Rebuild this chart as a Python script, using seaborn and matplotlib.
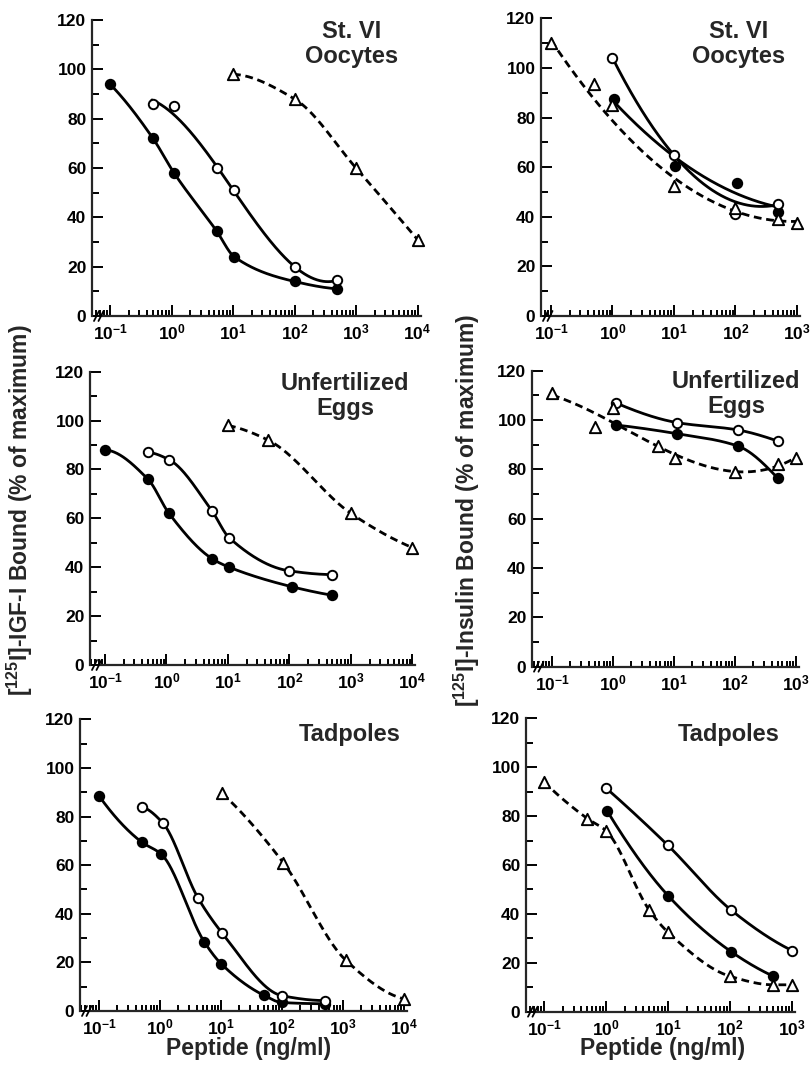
import numpy as np
import matplotlib
matplotlib.use("Agg")
import matplotlib.pyplot as plt
import seaborn as sns
from matplotlib.ticker import LogLocator, MultipleLocator, FixedLocator, FuncFormatter, NullFormatter

# ---------------- data ----------------
yticks = [0, 20, 40, 60, 80, 100, 120]
titles = ["St. VI\nOocytes", "St. VI\nOocytes", "Unfertilized\nEggs",
          "Unfertilized\nEggs", "Tadpoles", "Tadpoles"]
ylabel_igf = r"[$^{125}$I]-IGF-I Bound (% of maximum)"
ylabel_ins = r"[$^{125}$I]-Insulin Bound (% of maximum)"
xlabel = "Peptide (ng/ml)"

# A: IGF-I tracer, St. VI oocytes
a_filled_x = [0.1, 0.5, 1.1, 5.4, 10.5, 100, 500]
a_filled_y = [94, 72, 58, 34.5, 24, 14, 11]
a_open_x = [0.5, 1.1, 5.4, 10.5, 100, 500]
a_open_y = [86, 85, 60, 51, 20, 14.5]
a_tri_x = [10, 100, 1000, 10000]
a_tri_y = [98, 88, 60, 31]

# B: insulin tracer, St. VI oocytes
b_filled_x = [1.05, 10.5, 105, 500]
b_filled_y = [87.5, 60.5, 53.5, 42]
b_open_x = [1, 10, 100, 500]
b_open_y = [104, 65, 41, 45]
b_tri_x = [0.1, 0.5, 1, 10, 100, 500, 1000]
b_tri_y = [110, 93.5, 85, 52.5, 43.5, 39, 37.5]

# C: IGF-I tracer, unfertilized eggs
c_filled_x = [0.1, 0.5, 1.1, 5.5, 10.5, 110, 500]
c_filled_y = [88, 76, 62, 43.5, 40, 32, 28.5]
c_open_x = [0.5, 1.1, 5.5, 10.5, 100, 500]
c_open_y = [87, 84, 63, 52, 38.5, 37]
c_tri_x = [10, 45, 1000, 10000]
c_tri_y = [98, 92, 62, 48]

# D: insulin tracer, unfertilized eggs
d_filled_x = [1.1, 11, 110, 500]
d_filled_y = [98, 94.5, 89.5, 76.5]
d_open_x = [1.1, 11, 110, 500]
d_open_y = [107, 99, 96, 91.5]
d_tri_x = [0.1, 0.5, 1, 5.5, 10.5, 100, 500, 1000]
d_tri_y = [111, 97, 105, 89.5, 84.5, 79, 82, 84.5]

# E: IGF-I tracer, tadpoles
e_filled_x = [0.1, 0.5, 1.05, 5.3, 10, 50, 100, 500]
e_filled_y = [88.5, 69.5, 64.5, 28.5, 19.5, 6.5, 3.5, 3]
e_open_x = [0.5, 1.1, 4.2, 10.5, 100, 500]
e_open_y = [84, 77.5, 46.5, 32, 6.3, 4.3]
e_tri_x = [10.5, 105, 1100, 10000]
e_tri_y = [89.5, 61, 21, 5]

# F: insulin tracer, tadpoles
f_filled_x = [1.05, 10, 105, 500]
f_filled_y = [82, 47.5, 24.5, 14.5]
f_open_x = [1, 10, 105, 1000]
f_open_y = [91.5, 68, 41.5, 25]
f_tri_x = [0.1, 0.5, 1, 5, 10, 100, 500, 1000]
f_tri_y = [94, 79, 74, 41.5, 32.5, 14.5, 11, 11]

# ---------------- style ----------------
sns.set_theme(style="ticks")
plt.rcParams["font.family"] = ["Liberation Sans", "DejaVu Sans"]
plt.rcParams["font.weight"] = "bold"
plt.rcParams["mathtext.fontset"] = "custom"
plt.rcParams["mathtext.rm"] = "Liberation Sans:bold"
plt.rcParams["mathtext.bf"] = "Liberation Sans:bold"
plt.rcParams["mathtext.it"] = "Liberation Sans:bold"

W, H = 812, 1065
fig = plt.figure(figsize=(W / 100, H / 100), dpi=100)


def pchip(t, y, tn):
    t = np.asarray(t, float)
    y = np.asarray(y, float)
    n = len(t)
    h = np.diff(t)
    d = np.diff(y) / h
    m = np.zeros(n)
    if n == 2:
        m[:] = d[0]
    else:
        for k in range(1, n - 1):
            if d[k - 1] * d[k] <= 0:
                m[k] = 0.0
            else:
                w1 = 2 * h[k] + h[k - 1]
                w2 = h[k] + 2 * h[k - 1]
                m[k] = (w1 + w2) / (w1 / d[k - 1] + w2 / d[k])

        def end(h0, h1, d0, d1):
            s = ((2 * h0 + h1) * d0 - h0 * d1) / (h0 + h1)
            if np.sign(s) != np.sign(d0):
                s = 0.0
            elif np.sign(d0) != np.sign(d1) and abs(s) > abs(3 * d0):
                s = 3 * d0
            return s

        m[0] = end(h[0], h[1], d[0], d[1])
        m[-1] = end(h[-1], h[-2], d[-1], d[-2])
    i = np.clip(np.searchsorted(t, tn) - 1, 0, n - 2)
    hh = h[i]
    s = (tn - t[i]) / hh
    h00 = 2 * s**3 - 3 * s**2 + 1
    h10 = s**3 - 2 * s**2 + s
    h01 = -2 * s**3 + 3 * s**2
    h11 = s**3 - s**2
    return h00 * y[i] + h10 * hh * m[i] + h01 * y[i + 1] + h11 * hh * m[i + 1]


def curve(x, y, fit=None, w=None, x0=None):
    t = np.log10(x)
    lo = np.log10(x0) if x0 else t[0]
    tn = np.linspace(lo, t[-1], 300)
    if fit is None:
        yn = pchip(t, y, tn)
    else:
        c = np.polyfit(t, y, fit, w=w)
        yn = np.polyval(c, tn)
    return 10**tn, yn


# panel geometry in reference pixels: y-spine x, x of 10^-1, px per decade,
# last decade, y of 120, y of 0
geo = [
    dict(spine=92, pm1=110, dec=61.5, last=4, top=20, bot=316),
    dict(spine=541, pm1=551, dec=61.5, last=3, top=18.3, bot=316),
    dict(spine=90, pm1=105, dec=61.5, last=4, top=371.7, bot=665),
    dict(spine=532, pm1=552, dec=61, last=3, top=370.7, bot=666.7),
    dict(spine=80, pm1=99, dec=61, last=4, top=719.3, bot=1011),
    dict(spine=526, pm1=544, dec=62, last=3, top=718.3, bot=1011.7),
]
title_pos = [(352, 20), (739, 20), (345, 372), (736, 370), (350, 723), (729, 723)]

panels = [
    [(a_filled_x, a_filled_y, "filled", {}),
     (a_open_x, a_open_y, "open", dict(fit=3, w=[0.35, 0.35, 1, 1, 1, 1], x0=0.48)),
     (a_tri_x, a_tri_y, "tri", {})],
    [(b_filled_x, b_filled_y, "filled", dict(fit=2)),
     (b_open_x, b_open_y, "open", dict(fit=2, w=[1, 1, 0.2, 1])),
     (b_tri_x, b_tri_y, "tri", dict(fit=2, w=[1, 0.5, 0.5, 1, 1, 1, 1]))],
    [(c_filled_x, c_filled_y, "filled", {}), (c_open_x, c_open_y, "open", {}),
     (c_tri_x, c_tri_y, "tri", {})],
    [(d_filled_x, d_filled_y, "filled", {}), (d_open_x, d_open_y, "open", {}),
     (d_tri_x, d_tri_y, "tri", dict(fit=3))],
    [(e_filled_x, e_filled_y, "filled", {}), (e_open_x, e_open_y, "open", {}),
     (e_tri_x, e_tri_y, "tri", {})],
    [(f_filled_x, f_filled_y, "filled", {}), (f_open_x, f_open_y, "open", {}),
     (f_tri_x, f_tri_y, "tri", {})],
]


def dec_fmt(v, pos):
    e = int(round(np.log10(v)))
    return r"$\mathbf{10^{%d}}$" % e


LW = 2.0
for k, g in enumerate(geo):
    right = g["pm1"] + g["dec"] * (g["last"] + 1) + 3
    axw = right - g["spine"]
    axh = g["bot"] - g["top"]
    ax = fig.add_axes([g["spine"] / W, 1 - g["bot"] / H, axw / W, axh / H])
    ax.set_xscale("log")
    lo = -1 - (g["pm1"] - g["spine"]) / g["dec"]
    hi = g["last"] + 3 / g["dec"]
    ax.set_xlim(10**lo, 10**hi)
    ax.set_ylim(0, 120)

    for x, y, kind, opt in panels[k]:
        cx, cy = curve(x, y, **opt)
        if kind == "tri":
            sns.lineplot(x=cx, y=cy, ax=ax, color="black", lw=LW, estimator=None,
                         sort=False, linestyle=(0, (2.8, 1.7)), zorder=2)
            sns.scatterplot(x=x, y=y, ax=ax, marker="^", s=66, facecolor="white",
                            edgecolor="black", linewidth=1.4, zorder=4, clip_on=False)
        else:
            sns.lineplot(x=cx, y=cy, ax=ax, color="black", lw=LW, estimator=None,
                         sort=False, zorder=2)
            sns.scatterplot(x=x, y=y, ax=ax, marker="o", s=46,
                            facecolor="black" if kind == "filled" else "white",
                            edgecolor="black", linewidth=1.4, zorder=4, clip_on=False)

    sns.despine(ax=ax)
    ax.spines["left"].set_linewidth(1.6)
    ax.spines["bottom"].set_linewidth(1.6)
    ax.spines["bottom"].set_bounds(10**(lo + 10 / g["dec"]), 10**hi)
    ax.yaxis.set_major_locator(FixedLocator(yticks))
    ax.yaxis.set_minor_locator(MultipleLocator(10))
    ax.xaxis.set_major_locator(LogLocator(base=10, numticks=12))
    ax.xaxis.set_minor_locator(LogLocator(base=10, subs=np.arange(2, 10), numticks=12))
    ax.xaxis.set_major_formatter(FuncFormatter(dec_fmt))
    ax.xaxis.set_minor_formatter(NullFormatter())
    ax.tick_params(axis="both", which="both", direction="in", width=1.4, colors="black",
                   labelsize=12.5)
    ax.tick_params(axis="y", which="major", length=8, pad=4)
    ax.tick_params(axis="y", which="minor", length=5)
    ax.tick_params(axis="x", which="major", length=8, pad=5)
    ax.tick_params(axis="x", which="minor", length=4.5)
    for lab in ax.get_yticklabels():
        lab.set_fontweight("bold")
    ax.set_xlabel("")
    ax.set_ylabel("")
    ax.grid(False)
    ax.set_facecolor("white")

    # axis break marks "//"
    for dx in (2, 6.5):
        ax.plot([dx / axw, (dx + 5) / axw], [-5 / axh, 5 / axh], transform=ax.transAxes,
                color="black", lw=1.3, clip_on=False, zorder=5)

    tx, ty = title_pos[k]
    fig.text(tx / W, 1 - ty / H, titles[k], ha="center", va="top", ma="center",
             fontsize=17, fontweight="bold", linespacing=1.1)

fig.text(20 / W, 1 - 510 / H, ylabel_igf, rotation=90, ha="center", va="center",
         fontsize=16.5, fontweight="bold")
fig.text(467 / W, 1 - 510 / H, ylabel_ins, rotation=90, ha="center", va="center",
         fontsize=16.5, fontweight="bold")
fig.text(249 / W, 1 - 1048 / H, xlabel, ha="center", va="center", fontsize=16.5,
         fontweight="bold")
fig.text(663 / W, 1 - 1048 / H, xlabel, ha="center", va="center", fontsize=16.5,
         fontweight="bold")

fig.savefig("out.png", dpi=100, facecolor="white")
